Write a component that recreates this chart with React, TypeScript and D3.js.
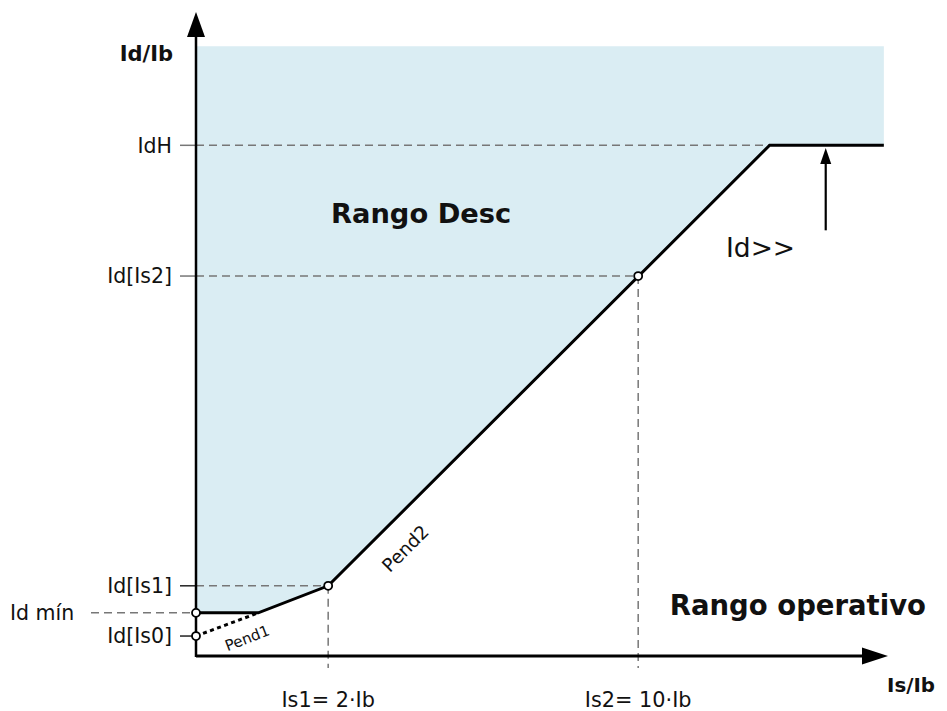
import React from "react";
import * as d3 from "d3";

// Characteristic curve (schematic units, 0..100 on both axes)
const curveX = [0, 9.0, 19.1, 82.9, 99.4];
const curveY = [6.7, 6.7, 10.9, 79.3, 79.3];
const pend1X = [0, 9.0];
const pend1Y = [3.1, 6.7];
const zoneTop = 94.7;

// Y reference levels
const yLabels = ["IdH", "Id[Is2]", "Id[Is1]", "Id mín", "Id[Is0]"];
const yLevels = [79.3, 59.0, 10.9, 6.7, 3.1];
const yGuideEnd = [82.9, 63.9, 19.1, 0, 0];

// X reference levels
const xLabels = ["Is1= 2·Ib", "Is2= 10·Ib"];
const xLevels = [19.1, 63.9];
const xGuideTop = [10.9, 59.0];

// markers on the curve
const markX = [0, 0, 19.1, 63.9];
const markY = [6.7, 3.1, 10.9, 59.0];

// Id>> arrow
const arrowX = 91.0;
const arrowFrom = 66.1;
const arrowTo = 78.9;

const W = 947;
const H = 711;
const FONT = "DejaVu Sans, Verdana, sans-serif";

const App: React.FC = () => {
  const x = d3.scaleLinear().domain([0, 100]).range([196, 888]);
  const y = d3.scaleLinear().domain([0, 100]).range([656, 12]);

  const pts = curveX.map((v, i) => [v, curveY[i]] as [number, number]);

  const area = d3
    .area<[number, number]>()
    .x((d) => x(d[0]))
    .y0(y(zoneTop))
    .y1((d) => y(d[1]));

  const line = d3
    .line<[number, number]>()
    .x((d) => x(d[0]))
    .y((d) => y(d[1]));

  const pend1 = pend1X.map((v, i) => [v, pend1Y[i]] as [number, number]);

  const x0 = x(0);
  const y0 = y(0);
  const gray = "#777";

  return (
    <svg
      width={W}
      height={H}
      style={{ position: "absolute", left: 0, top: 0, background: "#fff" }}
      fontFamily={FONT}
    >
      {/* tripping zone */}
      <path d={area(pts) || ""} fill="#daedf3" />

      {/* horizontal guides */}
      {yLevels.map((v, i) => (
        <g key={"hy" + i}>
          {yLabels[i] === "Id mín" ? (
            <line x1={91} x2={x0} y1={y(v)} y2={y(v)} stroke={gray} strokeWidth={1.5} strokeDasharray="8,5" />
          ) : (
            <line x1={180} x2={x0} y1={y(v)} y2={y(v)} stroke={i < 2 ? gray : "#222"} strokeWidth={1.5} />
          )}
          {yGuideEnd[i] > 0 && (
            <line
              x1={x0}
              x2={x(yGuideEnd[i])}
              y1={y(v)}
              y2={y(v)}
              stroke={gray}
              strokeWidth={1.5}
              strokeDasharray="8,5"
            />
          )}
          <text
            x={yLabels[i] === "Id mín" ? 10 : 172}
            y={y(v)}
            dy="0.36em"
            textAnchor={yLabels[i] === "Id mín" ? "start" : "end"}
            fontSize={20.5}
            fill="#111"
          >
            {yLabels[i]}
          </text>
        </g>
      ))}

      {/* vertical guides */}
      {xLevels.map((v, i) => (
        <g key={"vx" + i}>
          <line
            x1={x(v)}
            x2={x(v)}
            y1={y(xGuideTop[i])}
            y2={y0 + 12}
            stroke={gray}
            strokeWidth={1.5}
            strokeDasharray="8,5"
          />
          <text x={x(v)} y={707} textAnchor="middle" fontSize={20.8} fill="#111">
            {xLabels[i]}
          </text>
        </g>
      ))}

      {/* axes */}
      <line x1={x0} x2={x0} y1={y0 + 1} y2={y(100) + 24} stroke="#000" strokeWidth={2.5} />
      <path d={`M${x0},${y(100)} L${x0 - 9},${y(100) + 25} L${x0 + 9},${y(100) + 25} Z`} fill="#000" />
      <line x1={x0} x2={x(100) - 24} y1={y0} y2={y0} stroke="#000" strokeWidth={3} />
      <path d={`M${x(100)},${y0} L${x(100) - 26},${y0 - 8.5} L${x(100) - 26},${y0 + 8.5} Z`} fill="#000" />

      {/* curve */}
      <path d={line(pend1) || ""} fill="none" stroke="#000" strokeWidth={3} strokeDasharray="4,3.5" />
      <path d={line(pts) || ""} fill="none" stroke="#000" strokeWidth={3} strokeLinejoin="miter" />

      {markX.map((v, i) => (
        <circle key={"m" + i} cx={x(v)} cy={y(markY[i])} r={4} fill="#fff" stroke="#000" strokeWidth={1.8} />
      ))}

      {/* Id>> arrow */}
      <line x1={x(arrowX)} x2={x(arrowX)} y1={y(arrowFrom)} y2={y(arrowTo) + 14} stroke="#000" strokeWidth={2.2} />
      <path
        d={`M${x(arrowX)},${y(arrowTo)} L${x(arrowX) - 5.5},${y(arrowTo) + 16} L${x(arrowX) + 5.5},${y(arrowTo) + 16} Z`}
        fill="#000"
      />
      <text x={726} y={257} fontSize={26.5} fill="#111">
        Id&gt;&gt;
      </text>

      {/* slope labels */}
      <text transform="translate(410,553) rotate(-45)" textAnchor="middle" fontSize={18.5} fill="#111">
        Pend2
      </text>
      <text transform="translate(249,643) rotate(-21)" textAnchor="middle" fontSize={15} fill="#111">
        Pend1
      </text>

      {/* region labels */}
      <text x={331} y={223} fontSize={27.3} fontWeight="bold" fill="#111">
        Rango Desc
      </text>
      <text x={926} y={615} textAnchor="end" fontSize={27.5} fontWeight="bold" fill="#111">
        Rango operativo
      </text>

      {/* axis titles */}
      <text x={173} y={61} textAnchor="end" fontSize={21} fontWeight="bold" fill="#111">
        Id/Ib
      </text>
      <text x={935} y={692} textAnchor="end" fontSize={19.8} fontWeight="bold" fill="#111">
        Is/Ib
      </text>
    </svg>
  );
};

export default App;
